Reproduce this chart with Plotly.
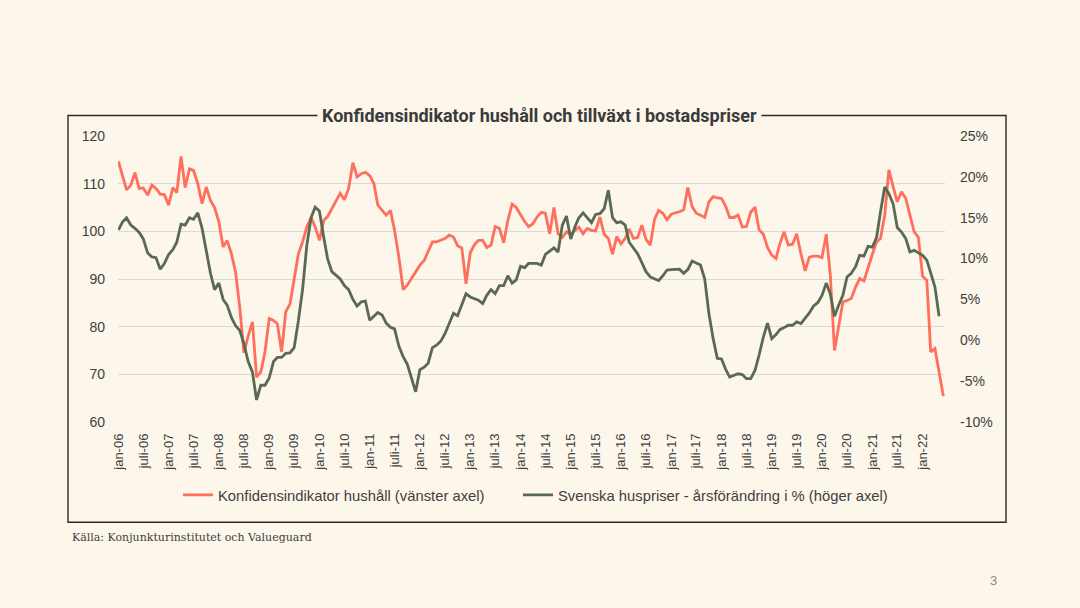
import pandas as pd
import plotly.graph_objects as go

# ---- data -------------------------------------------------------------
start_month = "2006-01-01"

konfidens = [
    114.7, 111.8, 108.7, 109.7, 112.3, 109.0, 109.1, 107.6, 109.7, 109.0,
    107.8, 107.7, 105.5, 109.2, 108.1, 115.7, 109.2, 113.1, 112.8, 110.0,
    105.8, 109.3, 106.5, 105.0, 102.0, 96.7, 98.1, 95.3, 91.5, 84.0,
    74.5, 78.0, 81.0, 69.4, 70.5, 74.7, 81.7, 81.3, 80.6, 74.7,
    83.1, 84.8, 90.4, 95.3, 97.8, 100.9, 102.9, 100.9, 98.1, 102.3,
    103.1, 104.8, 106.2, 108.0, 106.6, 109.0, 114.4, 111.4, 112.1, 112.4,
    111.7, 110.0, 105.5, 104.4, 103.4, 104.4, 100.2, 94.6, 87.8, 88.7,
    90.1, 91.5, 92.9, 93.9, 95.7, 97.8, 97.8, 98.1, 98.5, 99.2,
    98.8, 97.0, 96.5, 89.0, 95.5, 97.2, 98.1, 98.1, 96.6, 97.1,
    101.0, 100.6, 97.6, 102.3, 105.7, 105.0, 103.4, 102.0, 101.0, 101.6,
    103.0, 104.0, 103.8, 99.5, 105.0, 99.5, 98.7, 99.9, 99.4, 100.2,
    100.9, 99.5, 100.6, 100.2, 100.1, 103.0, 99.4, 98.5, 95.2, 98.9,
    97.4, 98.5, 100.5, 98.5, 98.7, 101.3, 98.3, 97.1, 102.5, 104.4,
    103.8, 102.4, 103.6, 103.9, 104.1, 104.5, 109.2, 105.2, 103.8, 103.4,
    102.9, 106.2, 107.3, 107.0, 106.9, 105.2, 102.9, 102.9, 103.4, 100.9,
    101.0, 104.0, 105.1, 100.3, 99.4, 96.6, 95.0, 94.3, 97.4, 99.9,
    97.1, 97.3, 99.5, 95.3, 91.7, 94.6, 94.8, 94.8, 94.5, 99.4,
    91.1, 75.0, 79.6, 85.2, 85.5, 85.9, 88.3, 90.1, 89.6, 92.5,
    95.2, 97.8, 98.5, 103.4, 112.9, 109.4, 106.2, 108.3, 106.9, 103.4,
    99.9, 98.8, 90.6, 89.7, 74.7, 75.4, 70.8, 65.4,
]

huspriser = [
    13.5, 14.5, 15.0, 14.1, 13.7, 13.2, 12.4, 10.7, 10.2, 10.1,
    8.7, 9.4, 10.5, 11.1, 12.0, 14.2, 14.1, 15.0, 14.8, 15.6,
    13.7, 11.0, 8.2, 6.2, 7.0, 5.0, 4.3, 2.8, 1.8, 1.2,
    -0.4, -2.6, -3.9, -7.3, -5.5, -5.5, -4.6, -2.6, -2.1, -2.1,
    -1.6, -1.55, -0.9, 2.4, 6.3, 11.6, 15.0, 16.3, 15.8, 12.6,
    10.0, 8.4, 8.0, 7.5, 6.7, 6.2, 5.0, 4.2, 4.7, 4.8,
    2.45, 3.0, 3.4, 3.1, 2.1, 1.6, 1.4, -0.7, -2.0, -2.9,
    -4.5, -6.3, -3.6, -3.3, -2.8, -0.9, -0.6, -0.1, 0.8, 2.0,
    3.3, 3.0, 4.3, 5.7, 5.3, 5.1, 4.9, 4.5, 5.5, 6.2,
    5.7, 6.7, 6.7, 7.9, 7.0, 7.4, 9.05, 8.9, 9.4, 9.4,
    9.4, 9.2, 10.5, 10.9, 11.3, 10.8, 14.1, 15.2, 12.4, 13.9,
    15.0, 15.6, 15.0, 14.4, 15.4, 15.5, 16.1, 18.35, 15.0, 14.4,
    14.5, 14.1, 12.0, 11.3, 10.6, 9.5, 8.4, 7.75, 7.5, 7.3,
    7.9, 8.6, 8.65, 8.65, 8.7, 8.2, 8.65, 9.7, 9.5, 9.2,
    7.5, 3.3, 0.2, -2.2, -2.3, -3.6, -4.5, -4.3, -4.1, -4.2,
    -4.7, -4.7, -3.7, -1.8, 0.4, 2.1, 0.2, 0.7, 1.3, 1.55,
    1.84, 1.84, 2.25, 2.04, 2.65, 3.35, 4.2, 4.6, 5.5, 7.0,
    5.7, 2.94, 4.3, 5.5, 7.75, 8.2, 9.0, 10.4, 10.3, 11.5,
    11.4, 12.6, 15.7, 18.76, 17.94, 16.7, 13.8, 13.25, 12.44, 10.8,
    11.0, 10.7, 10.4, 9.8, 8.16, 6.5, 2.94,
]

tick_labels = [
    "jan-06", "juli-06", "jan-07", "juli-07", "jan-08", "juli-08",
    "jan-09", "juli-09", "jan-10", "juli-10", "jan-11", "juli-11",
    "jan-12", "juli-12", "jan-13", "juli-13", "jan-14", "juli-14",
    "jan-15", "juli-15", "jan-16", "juli-16", "jan-17", "juli-17",
    "jan-18", "juli-18", "jan-19", "juli-19", "jan-20", "juli-20",
    "jan-21", "juli-21", "jan-22",
]

left_ticks = [60, 70, 80, 90, 100, 110, 120]
right_ticks = [-10, -5, 0, 5, 10, 15, 20, 25]
right_labels = ["-10%", "-5%", "0%", "5%", "10%", "15%", "20%", "25%"]

name_red = "Konfidensindikator hushåll (vänster axel)"
name_green = "Svenska huspriser - årsförändring i % (höger axel)"
title_text = "Konfidensindikator hushåll och tillväxt i bostadspriser"
source_text = "Källa: Konjunkturinstitutet och Valueguard"
page_number = "3"

# ---- derived ----------------------------------------------------------
months_red = pd.date_range(start_month, periods=len(konfidens), freq="MS")
months_green = pd.date_range(start_month, periods=len(huspriser), freq="MS")
tick_vals = pd.date_range(start_month, periods=len(tick_labels), freq="6MS")

BG = "#FCF6EB"
RED = "#FF6F5C"
GREEN = "#5A6A52"
TXT = "#404040"
W, H = 1080, 608
L, R, T, B = 118, 135, 135.5, 186.3
PW, PH = W - L - R, H - T - B


def px(xp):
    return (xp - L) / PW


def py(yp):
    return (H - B - yp) / PH


font_sans = "Liberation Sans, Arial, sans-serif"
legend_font = dict(family=font_sans, size=14.8, color=TXT)

fig = go.Figure()
fig.add_trace(go.Scatter(
    x=months_red, y=konfidens, name=name_red, mode="lines",
    line=dict(color=RED, width=2.8), yaxis="y", legend="legend",
))
fig.add_trace(go.Scatter(
    x=months_green, y=huspriser, name=name_green, mode="lines",
    line=dict(color=GREEN, width=2.8), yaxis="y2", legend="legend2",
))

fig.update_layout(
    width=W, height=H,
    paper_bgcolor=BG, plot_bgcolor=BG,
    margin=dict(l=L, r=R, t=T, b=B, pad=0),
    showlegend=True,
    legend=dict(
        orientation="h", x=px(178), xanchor="left", y=py(495), yanchor="middle",
        font=legend_font, bgcolor="rgba(0,0,0,0)", itemwidth=30,
    ),
    legend2=dict(
        orientation="h", x=px(518), xanchor="left", y=py(495), yanchor="middle",
        font=legend_font, bgcolor="rgba(0,0,0,0)", itemwidth=30,
    ),
    xaxis=dict(
        type="date",
        range=["2005-12-29", "2022-06-13"],
        tickmode="array", tickvals=tick_vals, ticktext=tick_labels,
        tickangle=-90, showgrid=False, zeroline=False, showline=False,
        ticks="", ticklabelstandoff=8,
        tickfont=dict(family=font_sans, size=13, color=TXT),
    ),
    yaxis=dict(
        range=[60, 120], tickmode="array", tickvals=left_ticks,
        showgrid=True, gridcolor="#DCDAD5", gridwidth=1,
        zeroline=False, showline=False, ticks="",
        ticklabelstandoff=12,
        tickfont=dict(family=font_sans, size=14, color=TXT),
    ),
    yaxis2=dict(
        range=[-10, 25], tickmode="array", tickvals=right_ticks,
        ticktext=right_labels, overlaying="y", side="right",
        showgrid=False, zeroline=False, showline=False, ticks="",
        ticklabelstandoff=14,
        tickfont=dict(family=font_sans, size=14, color=TXT),
    ),
    shapes=[dict(
        type="rect", xref="paper", yref="paper",
        x0=px(68), x1=px(1006), y0=py(522), y1=py(115),
        line=dict(color="#2A2A2A", width=1.4), fillcolor="rgba(0,0,0,0)",
        layer="below",
    )],
    annotations=[
        dict(
            text="<b>" + title_text + "</b>", xref="paper", yref="paper",
            x=px(539.5), y=py(115), xanchor="center", yanchor="middle",
            showarrow=False, bgcolor=BG, borderpad=4,
            font=dict(family="Roboto, Inter, sans-serif", size=18, color="#3A3A3A"),
        ),
        dict(
            text=source_text, xref="paper", yref="paper",
            x=px(70), y=py(537), xanchor="left", yanchor="middle",
            showarrow=False,
            font=dict(family="DejaVu Serif, serif", size=11, color=TXT),
        ),
        dict(
            text=page_number, xref="paper", yref="paper",
            x=px(993), y=py(580), xanchor="center", yanchor="middle",
            showarrow=False,
            font=dict(family=font_sans, size=13, color="#8C8C8C"),
        ),
    ],
)

fig.write_html(
    "out.html",
    config={"displayModeBar": False},
    post_script="document.body.style.margin='0';document.body.style.background='" + BG + "';",
)
